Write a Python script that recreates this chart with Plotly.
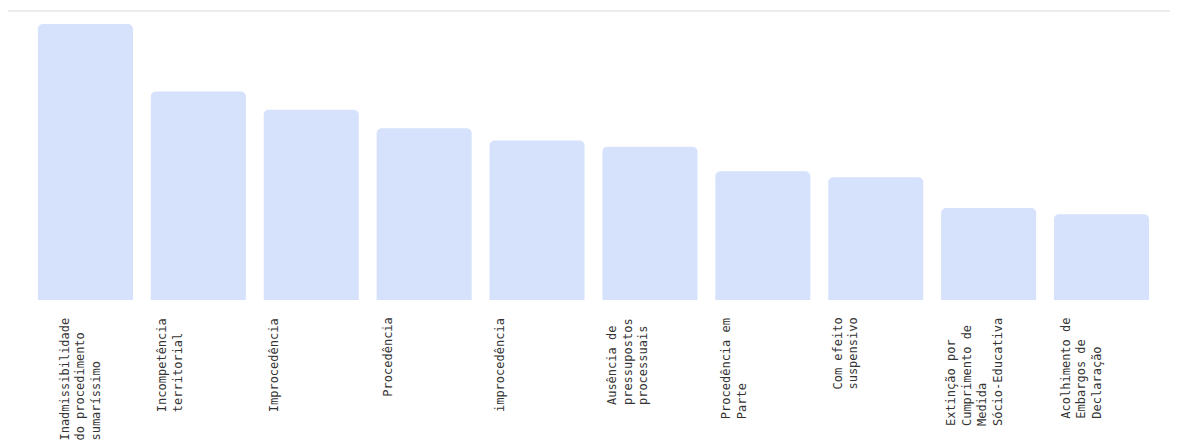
import plotly.graph_objects as go

categories = [
    "Inadmissibilidade do procedimento sumaríssimo",
    "Incompetência territorial",
    "Improcedência",
    "Procedência",
    "improcedência",
    "Ausência de pressupostos processuais",
    "Procedência em Parte",
    "Com efeito suspensivo",
    "Extinção por Cumprimento de Medida Sócio-Educativa",
    "Acolhimento de Embargos de Declaração",
]
tick_labels = [
    "Inadmissibilidade<br>do procedimento<br>sumaríssimo",
    "Incompetência<br>territorial",
    "Improcedência",
    "Procedência",
    "improcedência",
    "Ausência de<br>pressupostos<br>processuais",
    "Procedência em<br>Parte",
    "Com efeito<br>suspensivo",
    "Extinção por<br>Cumprimento de<br>Medida<br>Sócio-Educativa",
    "Acolhimento de<br>Embargos de<br>Declaração",
]
values = [45, 34, 31, 28, 26, 25, 21, 20, 15, 14]

# label layout: offset (px) of the first text line from the bar centre
first_line_offsets = [-21, -36, -37, -37, -37, -38, -37, -38, -38, -36]
LINE_STEP = 15.6

fig = go.Figure()
fig.add_trace(go.Bar(
    x=categories,
    y=values,
    marker=dict(color="rgb(214,226,252)", cornerradius=5, line=dict(width=0)),
    hoverinfo="x+y",
))

annotations = []
for cat, lab, off in zip(categories, tick_labels, first_line_offsets):
    n = lab.count("<br>") + 1
    annotations.append(dict(
        x=cat, y=0, xref="x", yref="y",
        text=lab, showarrow=False, textangle=-90,
        xanchor="center", yanchor="top", align="left",
        xshift=off + (n - 1) * LINE_STEP / 2, yshift=-17,
        font=dict(family="DejaVu Sans Mono", size=12, color="#333"),
        borderpad=0,
    ))

W, H = 1170, 439
L, R, T, B = 21, 19.5, 3, 147
pw = W - L - R

fig.update_layout(
    width=W,
    height=H,
    margin=dict(l=L, r=R, t=T, b=B),
    paper_bgcolor="white",
    plot_bgcolor="white",
    bargap=0.158,
    showlegend=False,
    xaxis=dict(
        showticklabels=False,
        showgrid=False,
        zeroline=False,
        showline=False,
        ticks="",
        automargin=False,
    ),
    yaxis=dict(
        range=[0, 47.12],
        visible=False,
        showgrid=False,
        zeroline=False,
    ),
    annotations=annotations,
    shapes=[
        dict(type="line", xref="paper", yref="paper",
             x0=-L / pw, x1=(W - L) / pw, y0=1, y1=1,
             line=dict(color="#ececec", width=2)),
    ],
)

fig.write_html("out.html")
